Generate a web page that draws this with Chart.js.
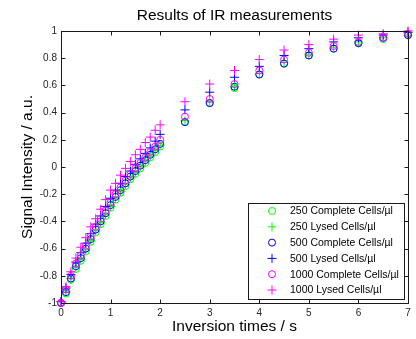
<!DOCTYPE html>
<html>
<head>
<meta charset="utf-8">
<script src="https://cdn.jsdelivr.net/npm/chart.js@4/dist/chart.umd.min.js"></script>
<style>
html,body{margin:0;padding:0;background:#fff;}
canvas{display:block;}
</style>
</head>
<body>
<canvas id="c" width="416" height="339"></canvas>
<script>
// ---- data ----
const times = [0,0.1,0.2,0.3,0.4,0.5,0.6,0.7,0.8,0.9,1.0,1.1,1.2,1.3,1.4,1.5,1.6,1.7,1.8,1.9,2.0,2.5,3,3.5,4,4.5,5,5.5,6,6.5,7];
const complete250 = [-1.00,-0.93,-0.83,-0.75,-0.69,-0.62,-0.55,-0.48,-0.42,-0.36,-0.30,-0.24,-0.19,-0.14,-0.09,-0.05,-0.01,0.03,0.07,0.11,0.15,0.33,0.47,0.58,0.68,0.76,0.82,0.87,0.91,0.94,0.97];
const lysed250    = [-0.99,-0.92,-0.82,-0.74,-0.68,-0.61,-0.54,-0.47,-0.41,-0.35,-0.29,-0.23,-0.18,-0.13,-0.08,-0.04,0.00,0.04,0.08,0.12,0.16,0.34,0.48,0.59,0.69,0.77,0.83,0.88,0.92,0.95,0.97];
const complete500 = [-1.00,-0.92,-0.82,-0.73,-0.67,-0.60,-0.53,-0.46,-0.40,-0.34,-0.28,-0.22,-0.17,-0.12,-0.07,-0.03,0.01,0.05,0.09,0.13,0.17,0.33,0.47,0.59,0.68,0.76,0.82,0.87,0.91,0.95,0.97];
const lysed500    = [-0.99,-0.89,-0.79,-0.70,-0.63,-0.56,-0.49,-0.42,-0.36,-0.29,-0.23,-0.17,-0.12,-0.07,-0.03,0.02,0.06,0.10,0.14,0.19,0.24,0.42,0.55,0.66,0.74,0.82,0.87,0.92,0.95,0.97,0.99];
const complete1000= [-1.00,-0.90,-0.80,-0.71,-0.65,-0.58,-0.51,-0.44,-0.38,-0.32,-0.26,-0.20,-0.15,-0.10,-0.05,-0.01,0.03,0.07,0.11,0.15,0.20,0.37,0.50,0.61,0.71,0.79,0.84,0.89,0.92,0.95,0.98];
const lysed1000   = [-0.99,-0.88,-0.77,-0.67,-0.59,-0.52,-0.44,-0.38,-0.31,-0.24,-0.17,-0.12,-0.06,-0.01,0.04,0.09,0.13,0.18,0.22,0.27,0.31,0.48,0.61,0.71,0.79,0.86,0.90,0.94,0.97,0.98,1.00];
const seriesLabels = ['250 Complete Cells/\u00b5l','250 Lysed Cells/\u00b5l','500 Complete Cells/\u00b5l','500 Lysed Cells/\u00b5l','1000 Complete Cells/\u00b5l','1000 Lysed Cells/\u00b5l'];
const xTicks = [0,1,2,3,4,5,6,7];
const yTicks = [-1,-0.8,-0.6,-0.4,-0.2,0,0.2,0.4,0.6,0.8,1];
const chartTitle = 'Results of IR measurements';
const xTitle = 'Inversion times / s';
const yTitle = 'Signal Intensity / a.u.';

const FONT = '"Liberation Sans", Arial, sans-serif';
const seriesValues = [complete250, lysed250, complete500, lysed500, complete1000, lysed1000];
const styles = [
  {c:'#00ff00', s:'circle', r:3.5},
  {c:'#00ff00', s:'cross', r:4.5},
  {c:'#0000ff', s:'circle', r:3.5},
  {c:'#0000ff', s:'cross', r:4.5},
  {c:'#ff00ff', s:'circle', r:3.5},
  {c:'#ff00ff', s:'cross', r:4.5}
];

const datasets = seriesValues.map((vals, i) => ({
  label: seriesLabels[i],
  data: times.map((t, j) => ({x: t, y: vals[j]})),
  showLine: false,
  pointStyle: styles[i].s,
  pointRadius: styles[i].r,
  pointHoverRadius: styles[i].r,
  pointBorderWidth: 1,
  pointBorderColor: styles[i].c,
  pointBackgroundColor: 'rgba(0,0,0,0)',
  borderColor: styles[i].c,
  backgroundColor: 'rgba(0,0,0,0)',
  order: 10 - i,
  clip: false
}));

const framePlugin = {
  id: 'frame',
  afterDraw(chart) {
    const {ctx, chartArea: a, scales} = chart;
    ctx.save();
    ctx.strokeStyle = '#1a1a1a';
    ctx.lineWidth = 1;
    const L = Math.round(a.left) + 0.5, R = Math.round(a.right) + 0.5;
    const T = Math.round(a.top) + 0.5, B = Math.round(a.bottom) + 0.5;
    ctx.strokeRect(L, T, R - L, B - T);
    const tl = 4;
    ctx.beginPath();
    xTicks.forEach(v => {
      const px = Math.round(scales.x.getPixelForValue(v)) + 0.5;
      ctx.moveTo(px, B); ctx.lineTo(px, B - tl);
      ctx.moveTo(px, T); ctx.lineTo(px, T + tl);
    });
    yTicks.forEach(v => {
      const py = Math.round(scales.y.getPixelForValue(v)) + 0.5;
      ctx.moveTo(L, py); ctx.lineTo(L + tl, py);
      ctx.moveTo(R, py); ctx.lineTo(R - tl, py);
    });
    ctx.stroke();

    // title
    ctx.fillStyle = '#000';
    ctx.font = '15.5px ' + FONT;
    ctx.textAlign = 'center';
    ctx.textBaseline = 'middle';
    ctx.fillText(chartTitle, (a.left + a.right) / 2, 16);

    // legend
    const lx = 248.5, ly = 203.5, lw = 156, lh = 96;
    ctx.fillStyle = '#fff';
    ctx.fillRect(lx, ly, lw, lh);
    ctx.strokeStyle = '#1a1a1a';
    ctx.strokeRect(lx, ly, lw, lh);
    ctx.font = '10.5px ' + FONT;
    ctx.textAlign = 'left';
    ctx.textBaseline = 'middle';
    chart.data.datasets.forEach((ds, i) => {
      const cy = 211 + i * 15.8;
      const mx = 272;
      ctx.strokeStyle = styles[i].c;
      ctx.lineWidth = 1;
      ctx.beginPath();
      if (styles[i].s === 'circle') {
        ctx.arc(mx, cy, styles[i].r, 0, Math.PI * 2);
      } else {
        const r = styles[i].r;
        ctx.moveTo(mx - r, cy); ctx.lineTo(mx + r, cy);
        ctx.moveTo(mx, cy - r); ctx.lineTo(mx, cy + r);
      }
      ctx.stroke();
      ctx.fillStyle = '#000';
      ctx.fillText(ds.label, 290, cy + 0.5);
    });
    ctx.restore();
  }
};

new Chart(document.getElementById('c'), {
  type: 'scatter',
  data: { datasets },
  plugins: [framePlugin],
  options: {
    responsive: false,
    animation: false,
    devicePixelRatio: 1,
    events: [],
    layout: { padding: { top: 31, right: 8, left: 0, bottom: 0 } },
    plugins: { legend: { display: false }, tooltip: { enabled: false }, title: { display: false } },
    scales: {
      x: {
        type: 'linear', min: 0, max: 7,
        afterFit(s) { s.height = 36; },
        afterBuildTicks(s) { s.ticks = xTicks.map(v => ({value: v})); },
        grid: { display: false, drawTicks: false },
        border: { display: false },
        ticks: { autoSkip: false, maxRotation: 0, padding: 4, color: '#262626', font: { size: 10, family: FONT },
                 callback: v => String(v) },
        title: { display: true, text: xTitle, color: '#000', font: { size: 15.5, family: FONT }, padding: { top: 0, bottom: 3 } }
      },
      y: {
        type: 'linear', min: -1, max: 1,
        afterFit(s) { s.width = 61; },
        afterBuildTicks(s) { s.ticks = yTicks.map(v => ({value: v})); },
        grid: { display: false, drawTicks: false },
        border: { display: false },
        ticks: { autoSkip: false, padding: 4, color: '#262626', font: { size: 10, family: FONT },
                 callback: v => String(Number(v.toFixed(1))) },
        title: { display: true, text: yTitle, color: '#000', font: { size: 15.5, family: FONT }, padding: { top: 18, bottom: 0 } }
      }
    }
  }
});
</script>
</body>
</html>
